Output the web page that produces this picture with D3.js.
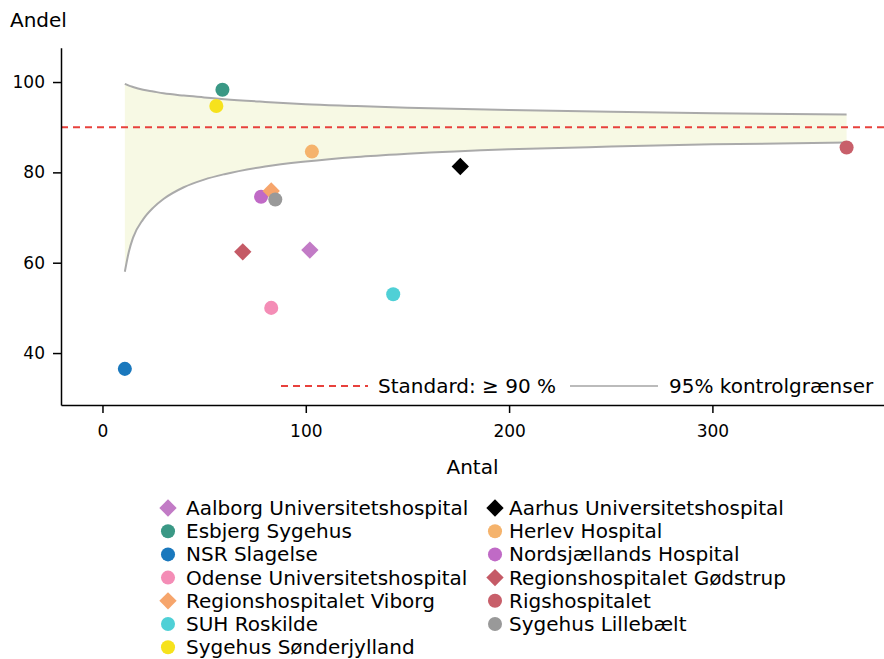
<!DOCTYPE html>
<html>
<head>
<meta charset="utf-8">
<script src="https://cdn.jsdelivr.net/npm/d3@7"></script>
<style>
  html, body { margin: 0; padding: 0; background: #ffffff; }
  svg { display: block; font-family: "DejaVu Sans", sans-serif; }
</style>
</head>
<body>
<svg id="chart" width="884" height="659"></svg>
<script>
// ---- data ----
const hospitals = [
  "Aalborg Universitetshospital", "Aarhus Universitetshospital",
  "Esbjerg Sygehus", "Herlev Hospital",
  "NSR Slagelse", "Nordsjællands Hospital",
  "Odense Universitetshospital", "Regionshospitalet Gødstrup",
  "Regionshospitalet Viborg", "Rigshospitalet",
  "SUH Roskilde", "Sygehus Lillebælt",
  "Sygehus Sønderjylland"
];
const antal = [102, 176, 59, 103, 11, 78, 83, 69, 83, 366, 143, 85, 56];
const andel = [62.8, 81.3, 98.3, 84.6, 36.5, 74.6, 50.0, 62.4, 75.9, 85.5, 53.0, 74.0, 94.7];
const shapes = ["diamond", "diamond", "circle", "circle", "circle", "circle", "circle",
                "diamond", "diamond", "circle", "circle", "circle", "circle"];
const colors = ["#c27bc6", "#000000", "#3a9885", "#f5b36c", "#1a78bd", "#c06ac6",
                "#f48db6", "#c55a66", "#f6a56c", "#c85f6a", "#4fd0d6", "#999999", "#f6e21c"];

// 95% control limits
const limitN     = [11,   13,   15,   20,   25,   30,   40,   50,   60,   80,   100,  125,  150,  200,  250,  300,  366];
const limitLower = [58.0, 62.5, 65.5, 69.6, 72.2, 74.1, 76.7, 78.4, 79.6, 81.3, 82.4, 83.4, 84.1, 85.1, 85.7, 86.2, 86.6];
const limitUpper = [99.6, 99.2, 98.9, 98.3, 97.9, 97.5, 97.0, 96.6, 96.2, 95.6, 95.1, 94.7, 94.3, 93.8, 93.4, 93.1, 92.8];
const standard = 90;

const xTicks = [0, 100, 200, 300];
const yTicks = [40, 60, 80, 100];

// ---- layout ----
const svg = d3.select("#chart");
const x = d3.scaleLinear().domain([-20.4, 384.4]).range([61, 884]);
const y = d3.scaleLinear().domain([28.5, 107.6]).range([405, 47.7]);

// funnel
const band = limitN.map((n, i) => ({n, lo: limitLower[i], hi: limitUpper[i]}));
svg.append("path")
  .datum(band)
  .attr("fill", "#f7f9e4")
  .attr("d", d3.area().curve(d3.curveMonotoneX)
    .x(d => x(d.n)).y0(d => y(d.lo)).y1(d => y(d.hi)));
["lo", "hi"].forEach(k => {
  svg.append("path")
    .datum(band)
    .attr("fill", "none")
    .attr("stroke", "#aaaaaa")
    .attr("stroke-width", 2)
    .attr("d", d3.line().curve(d3.curveMonotoneX).x(d => x(d.n)).y(d => y(d[k])));
});

// standard line
svg.append("line")
  .attr("x1", x.range()[0]).attr("x2", x.range()[1])
  .attr("y1", y(standard)).attr("y2", y(standard))
  .attr("stroke", "#e8413c").attr("stroke-width", 2)
  .attr("stroke-dasharray", "7,5");

// axes
const yAxis = svg.append("g")
  .attr("transform", `translate(${x.range()[0]},0)`)
  .call(d3.axisLeft(y).tickValues(yTicks).tickSize(8).tickPadding(8).tickSizeOuter(0));
const xAxis = svg.append("g")
  .attr("transform", `translate(0,${y.range()[0]})`)
  .call(d3.axisBottom(x).tickValues(xTicks).tickSize(8).tickPadding(12).tickSizeOuter(0));
[xAxis, yAxis].forEach(g => {
  g.selectAll("text").attr("font-size", 17).attr("font-family", "DejaVu Sans").attr("fill", "#000");
  g.selectAll("line").attr("stroke", "#000").attr("stroke-width", 1.5);
  g.select(".domain").attr("stroke", "#000").attr("stroke-width", 1.5);
});

svg.append("text").attr("x", 10).attr("y", 27).attr("font-size", 20).text("Andel");
svg.append("text").attr("x", (x.range()[0] + x.range()[1]) / 2).attr("y", 474)
  .attr("text-anchor", "middle").attr("font-size", 20).text("Antal");

// symbols
const circleSym = d3.symbol().type(d3.symbolCircle).size(155);
const diamondSym = d3.symbol().type(d3.symbolSquare).size(150);
function drawMarker(g, shape, color, cx, cy) {
  if (shape === "diamond") {
    g.append("path").attr("d", diamondSym())
      .attr("transform", `translate(${cx},${cy}) rotate(45)`)
      .attr("fill", color);
  } else {
    g.append("path").attr("d", circleSym())
      .attr("transform", `translate(${cx},${cy})`)
      .attr("fill", color);
  }
}

const pts = svg.append("g");
hospitals.forEach((h, i) => {
  drawMarker(pts, shapes[i], colors[i], x(antal[i]), y(andel[i]));
});

// in-plot legend
const leg1 = svg.append("g");
leg1.append("line").attr("x1", 281).attr("x2", 368).attr("y1", 386).attr("y2", 386)
  .attr("stroke", "#e8413c").attr("stroke-width", 2).attr("stroke-dasharray", "7,5");
leg1.append("text").attr("x", 378).attr("y", 386).attr("dy", "0.35em").attr("font-size", 20)
  .text("Standard: ≥ 90 %");
leg1.append("line").attr("x1", 570).attr("x2", 658).attr("y1", 386).attr("y2", 386)
  .attr("stroke", "#bbbbbb").attr("stroke-width", 2);
leg1.append("text").attr("x", 669).attr("y", 386).attr("dy", "0.35em").attr("font-size", 20)
  .text("95% kontrolgrænser");

// bottom legend (two columns, row-major)
const leg = svg.append("g");
hospitals.forEach((h, i) => {
  const col = i % 2, row = Math.floor(i / 2);
  const mx = col === 0 ? 168 : 495;
  const tx = col === 0 ? 186 : 509;
  const cy = 508 + row * 23.2;
  drawMarker(leg, shapes[i], colors[i], mx, cy);
  leg.append("text").attr("x", tx).attr("y", cy).attr("dy", "0.35em")
    .attr("font-size", 20).text(h);
});
</script>
</body>
</html>
